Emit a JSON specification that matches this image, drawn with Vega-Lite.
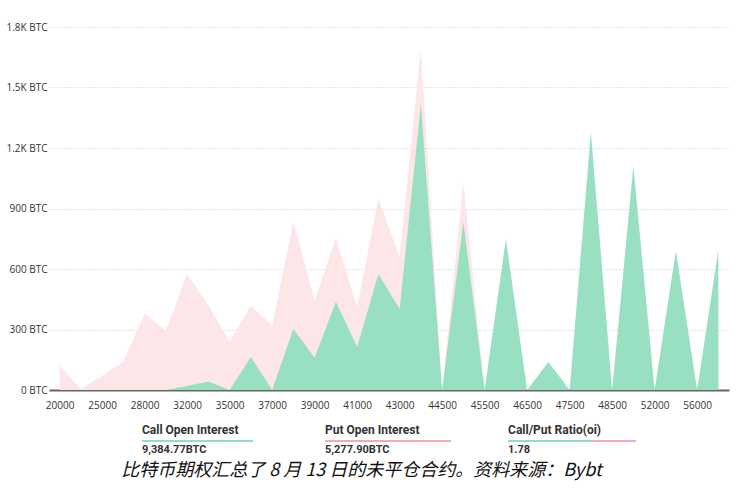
{
  "$schema": "https://vega.github.io/schema/vega-lite/v6.json",
  "background": "white",
  "padding": {"left": 5, "top": 22, "right": 5, "bottom": 5},
  "spacing": 14,
  "title": {
    "text": "比特币期权汇总了 8 月 13 日的未平仓合约。资料来源：Bybt",
    "orient": "bottom",
    "anchor": "middle",
    "font": "Noto Sans CJK SC",
    "fontSize": 18,
    "fontStyle": "italic",
    "fontWeight": "normal",
    "color": "#111111",
    "offset": 6,
    "dx": -6
  },
  "vconcat": [
    {
      "width": 680,
      "height": 363,
      "data": {
        "values": [
          {"strike": 20000, "put": 120, "call": 0},
          {"strike": 24000, "put": 5, "call": 0},
          {"strike": 25000, "put": 70, "call": 0},
          {"strike": 26000, "put": 140, "call": 0},
          {"strike": 28000, "put": 378, "call": 0},
          {"strike": 30000, "put": 295, "call": 0},
          {"strike": 32000, "put": 575, "call": 20},
          {"strike": 34000, "put": 420, "call": 42},
          {"strike": 35000, "put": 240, "call": 0},
          {"strike": 36000, "put": 418, "call": 164},
          {"strike": 37000, "put": 320, "call": 0},
          {"strike": 38000, "put": 834, "call": 302},
          {"strike": 39000, "put": 443, "call": 160},
          {"strike": 40000, "put": 753, "call": 438},
          {"strike": 41000, "put": 411, "call": 213},
          {"strike": 42000, "put": 947, "call": 575},
          {"strike": 43000, "put": 660, "call": 402},
          {"strike": 44000, "put": 1690, "call": 1418},
          {"strike": 44500, "put": 0, "call": 0},
          {"strike": 45000, "put": 1030, "call": 833},
          {"strike": 45500, "put": 0, "call": 0},
          {"strike": 46000, "put": 40, "call": 749},
          {"strike": 46500, "put": 0, "call": 0},
          {"strike": 47000, "put": 20, "call": 139},
          {"strike": 47500, "put": 0, "call": 0},
          {"strike": 48000, "put": 60, "call": 1279},
          {"strike": 48500, "put": 0, "call": 0},
          {"strike": 50000, "put": 40, "call": 1112},
          {"strike": 52000, "put": 0, "call": 0},
          {"strike": 54000, "put": 20, "call": 690},
          {"strike": 56000, "put": 0, "call": 0},
          {"strike": 58000, "put": 20, "call": 695}
        ]
      },
      "encoding": {
        "x": {
          "field": "strike",
          "type": "ordinal",
          "scale": {"type": "point", "padding": 0.5},
          "axis": {
            "title": null,
            "values": [20000, 25000, 28000, 32000, 35000, 37000, 39000, 41000, 43000, 44500, 45500, 46500, 47500, 48500, 52000, 56000],
            "labelAngle": 0,
            "ticks": false,
            "grid": false,
            "domainColor": "#666666",
            "domainWidth": 2,
            "labelPadding": 10,
            "labelFont": "Open Sans",
            "labelFontSize": 10,
            "labelColor": "#333333"
          }
        }
      },
      "layer": [
        {
          "mark": {"type": "area", "color": "#fce6e8", "opacity": 1},
          "encoding": {
            "y": {
              "field": "put",
              "type": "quantitative",
              "scale": {"domain": [0, 1800]},
              "axis": {
                "title": null,
                "values": [0, 300, 600, 900, 1200, 1500, 1800],
                "labelExpr": "datum.value >= 1000 ? format(datum.value / 1000, '.1f') + 'K BTC' : datum.value + ' BTC'",
                "domain": false,
                "ticks": false,
                "grid": true,
                "gridDash": [1, 2],
                "gridColor": "#cccccc",
                "labelPadding": 2,
                "minExtent": 43,
                "maxExtent": 43,
                "labelFont": "Open Sans",
                "labelFontSize": 10,
                "labelColor": "#333333"
              }
            }
          }
        },
        {
          "mark": {"type": "area", "color": "#99dfc1", "opacity": 1},
          "encoding": {
            "y": {"field": "call", "type": "quantitative"}
          }
        }
      ]
    },
    {
      "width": 552,
      "height": 30,
      "data": {
        "values": [
          {"item": "Call Open Interest", "amount": "9,384.77BTC"},
          {"item": "Put Open Interest", "amount": "5,277.90BTC"},
          {"item": "Call/Put Ratio(oi)", "amount": "1.78"}
        ]
      },
      "encoding": {
        "x": {
          "field": "item",
          "type": "nominal",
          "scale": {"type": "point", "padding": 0.508, "domain": ["Call Open Interest", "Put Open Interest", "Call/Put Ratio(oi)"]},
          "axis": null
        }
      },
      "layer": [
        {
          "mark": {"type": "text", "align": "left", "baseline": "alphabetic", "dy": -7, "font": "Roboto", "fontSize": 12, "fontWeight": "bold", "color": "#333333"},
          "encoding": {"text": {"field": "item"}}
        },
        {
          "mark": {"type": "text", "align": "left", "baseline": "alphabetic", "dy": 12, "font": "Roboto", "fontSize": 11, "fontWeight": "bold", "color": "#333333"},
          "encoding": {"text": {"field": "amount"}}
        },
        {
          "transform": [{"filter": "datum.item === 'Call Open Interest'"}],
          "mark": {"type": "rule", "color": "#6dd5a6", "strokeWidth": 1.5, "x2Offset": 111},
          "encoding": {"x2": {"field": "item"}}
        },
        {
          "transform": [{"filter": "datum.item === 'Put Open Interest'"}],
          "mark": {"type": "rule", "color": "#f28f99", "strokeWidth": 1.5, "x2Offset": 126},
          "encoding": {"x2": {"field": "item"}}
        },
        {
          "transform": [{"filter": "datum.item === 'Call/Put Ratio(oi)'"}],
          "mark": {"type": "rule", "color": "#6dd5a6", "strokeWidth": 1.5, "x2Offset": 83},
          "encoding": {"x2": {"field": "item"}}
        },
        {
          "transform": [{"filter": "datum.item === 'Call/Put Ratio(oi)'"}],
          "mark": {"type": "rule", "color": "#f28f99", "strokeWidth": 1.5, "xOffset": 83, "x2Offset": 128},
          "encoding": {"x2": {"field": "item"}}
        }
      ]
    }
  ],
  "config": {
    "view": {"stroke": null}
  }
}
